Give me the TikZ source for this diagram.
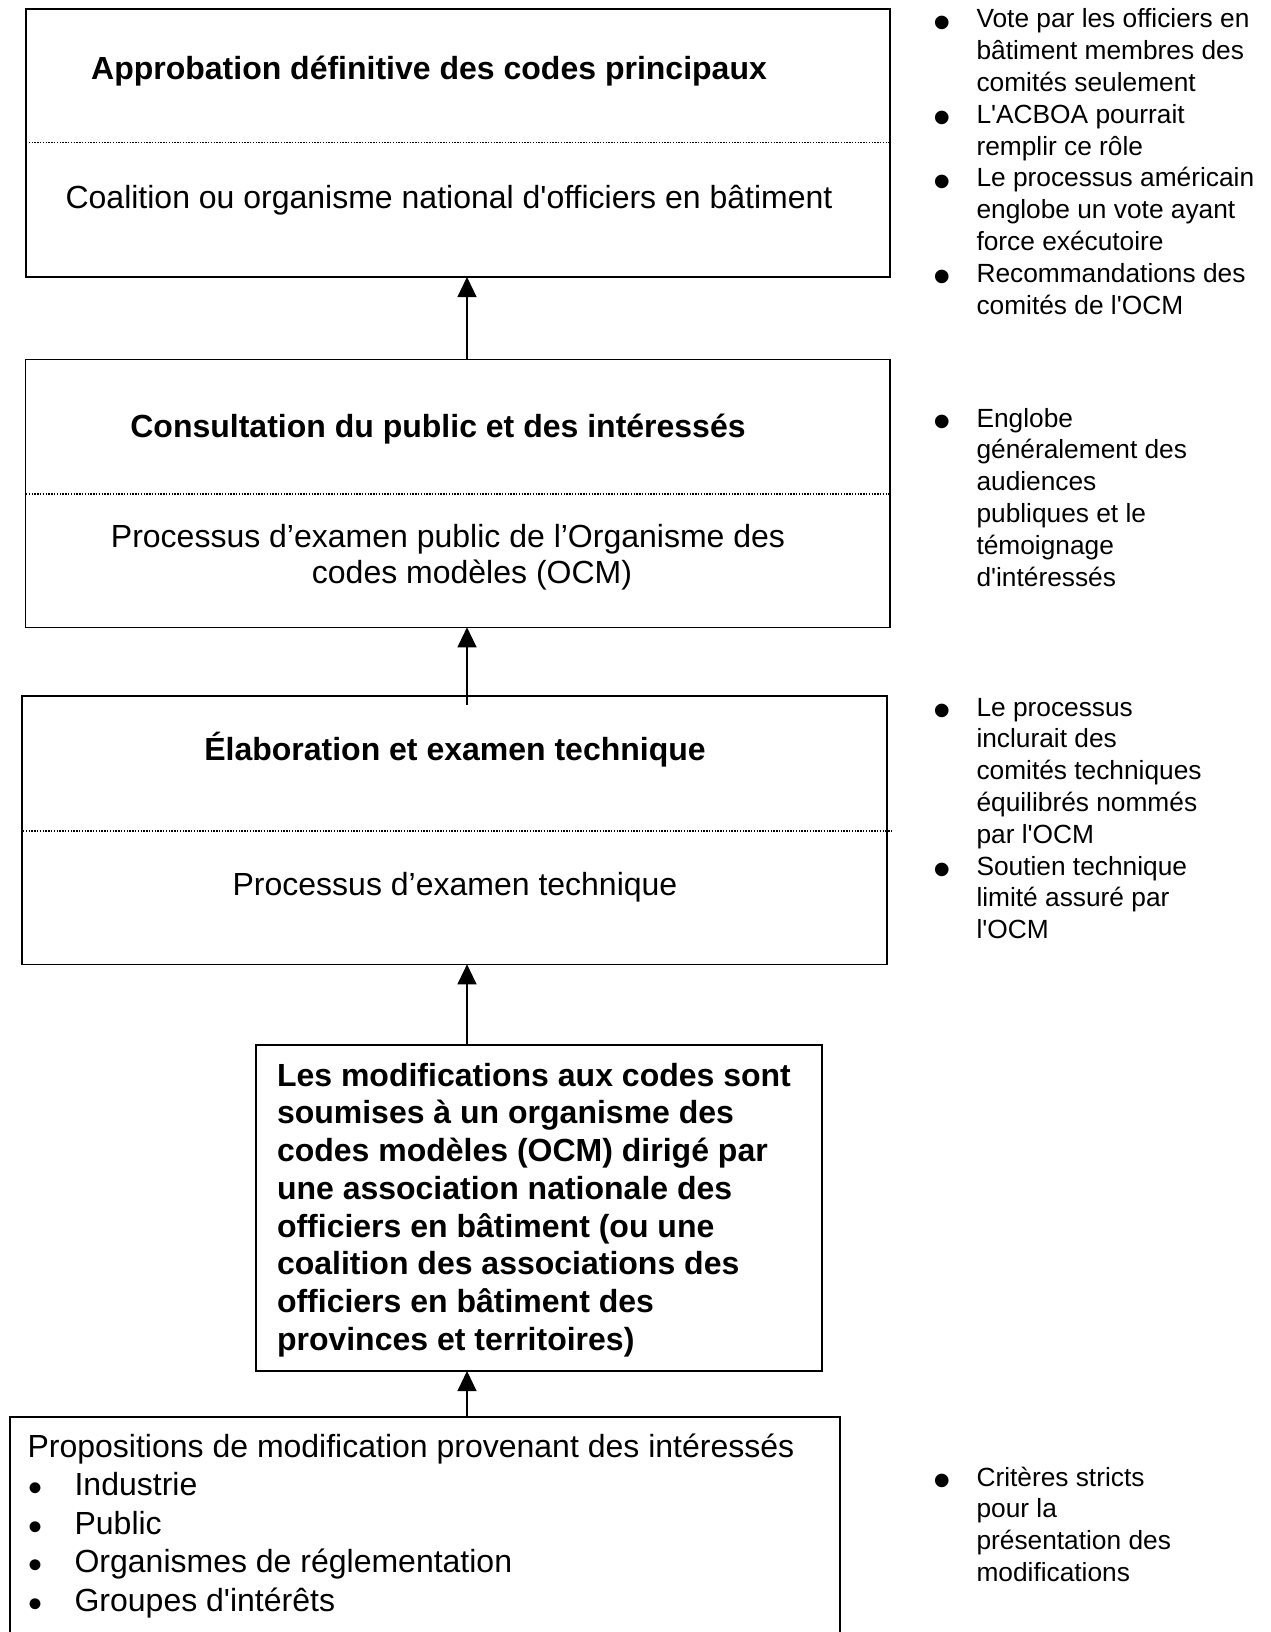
\documentclass[tikz,border=0pt]{standalone}
\usepackage{fontspec}
\setmainfont{Liberation Sans}
\usetikzlibrary{arrows.meta}
\newcommand\rbul{\llap{\smash{\raisebox{-5.7pt}{\fontsize{25}{25}\selectfont\textbullet}}\hspace{12.9pt}}}
\newcommand\lbul{\llap{\smash{\raisebox{-3pt}{\fontsize{20}{20}\selectfont\textbullet}}\hspace{16pt}}}
\newcommand\sq{\textquotesingle}
\begin{document}
\begin{tikzpicture}[x=0.5pt,y=-0.5pt,
  box/.style={draw, line width=0.8pt, inner sep=0pt, outer sep=0pt},
  divider/.style={line width=0.6pt, dash pattern=on 0.7pt off 0.7pt},
  arr/.style={line width=0.6pt, -{Triangle[length=10pt,width=9.5pt]}},
  txt/.style={inner sep=0pt, outer sep=0pt, font=\fontsize{16}{18.9}\selectfont},
  side/.style={inner sep=0pt, outer sep=0pt, anchor=base west, font=\fontsize{13.15}{15.9}\selectfont}]
\useasboundingbox (0,0) rectangle (1270,1632);
\clip (0,0) rectangle (1270,1632);

% boxes
\node[box, line width=1pt, minimum width=432.25pt, minimum height=133.85pt] (b1) at (457.75,143.15) {};
\node[box, minimum width=432.25pt, minimum height=134pt] (b2) at (457.75,493.3) {};
\node[box, minimum width=432.5pt, minimum height=134.3pt] (b3) at (454.5,830) {};
\node[box, minimum width=283pt, minimum height=163pt] (b4) at (539,1208) {};
\node[box, minimum width=415pt, minimum height=141.5pt] (b5) at (425,1558.5) {};

% dividers
\draw[divider] (26,142.5) -- (890,142.5);
\draw[divider] (26,494) -- (890,494);
\draw[divider] (23,831) -- (892,831);

% arrows
\coordinate (ax) at (467,0);
\coordinate (a2s) at (467,705);
\draw[arr] (ax |- b2.north) -- (ax |- b1.south);
\draw[arr] (a2s) -- (ax |- b2.south);
\draw[arr] (ax |- b4.north) -- (ax |- b3.south);
\draw[arr] (ax |- b5.north) -- (ax |- b4.south);

% box texts
\node[txt, anchor=base] (t1) at (429,80) {\bfseries Approbation définitive des codes principaux};
\node[txt, anchor=base] (s1) at (449,208.5) {Coalition ou organisme national d\sq officiers en bâtiment};
\node[txt, anchor=base] (t2) at (438,437) {\bfseries Consultation du public et des intéressés};
\node[txt, anchor=base] (s2) at (448,547) {\fontsize{16}{18}\selectfont\begin{tabular}[t]{@{}c@{}}Processus d’examen public de l’Organisme des\\\hspace*{24pt}codes modèles (OCM)\end{tabular}};
\node[txt, anchor=base] (t3) at (455,760) {\bfseries Élaboration et examen technique};
\node[txt, anchor=base] (s3) at (455,895) {Processus d’examen technique};

\node[txt, anchor=base west] (t4) at (277,1086) {\bfseries\fontsize{16}{18.875}\selectfont\begin{tabular}[t]{@{}l@{}}Les modifications aux codes sont\\
soumises à un organisme des\\
codes modèles (OCM) dirigé par\\
une association nationale des\\
officiers en bâtiment (ou une\\
coalition des associations des\\
officiers en bâtiment des\\
provinces et territoires)\end{tabular}};

\node[txt, anchor=base west] (t5) at (27.6,1457) {\fontsize{16}{19.25}\selectfont\begin{tabular}[t]{@{}l@{}}Propositions de modification provenant des intéressés\\
\hspace*{23.5pt}\lbul Industrie\\
\hspace*{23.5pt}\lbul Public\\
\hspace*{23.5pt}\lbul Organismes de réglementation\\
\hspace*{23.5pt}\lbul Groupes d\sq intérêts\end{tabular}};

% side notes
\node[side] (r1) at (976.5,28) {\begin{tabular}[t]{@{}l@{}}\rbul Vote par les officiers en\\
bâtiment membres des\\
comités seulement\\
\rbul L\sq ACBOA pourrait\\
remplir ce rôle\\
\rbul Le processus américain\\
englobe un vote ayant\\
force exécutoire\\
\rbul Recommandations des\\
comités de l\sq OCM\end{tabular}};

\node[side] (r2) at (976.5,427) {\begin{tabular}[t]{@{}l@{}}\rbul Englobe\\
généralement des\\
audiences\\
publiques et le\\
témoignage\\
d\sq intéressés\end{tabular}};

\node[side] (r3) at (976.5,716) {\begin{tabular}[t]{@{}l@{}}\rbul Le processus\\
inclurait des\\
comités techniques\\
équilibrés nommés\\
par l\sq OCM\\
\rbul Soutien technique\\
limité assuré par\\
l\sq OCM\end{tabular}};

\node[side] (r4) at (976.5,1486) {\begin{tabular}[t]{@{}l@{}}\rbul Critères stricts\\
pour la\\
présentation des\\
modifications\end{tabular}};
\end{tikzpicture}
\end{document}
